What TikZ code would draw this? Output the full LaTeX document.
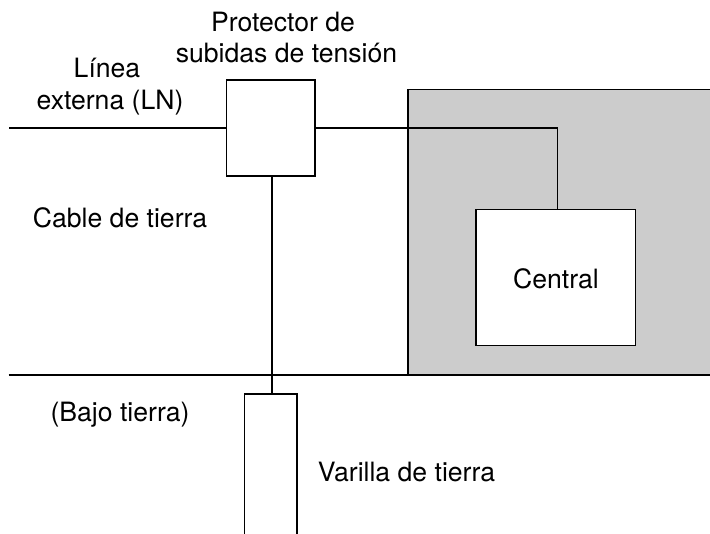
\documentclass[tikz,border=0pt]{standalone}
\usepackage{fontspec}
\setmainfont{TeX Gyre Heros}
\definecolor{roomgray}{HTML}{CCCCCC}
\tikzset{
  wire/.style={draw=black,line width=1.5pt},
  boxed/.style={draw=black,line width=1.5pt,fill=white,inner sep=0pt,outer sep=0pt,anchor=north west},
  lbl/.style={font=\fontsize{26.6}{31}\selectfont,inner sep=0pt,text=black,anchor=base}
}
\begin{document}
\begin{tikzpicture}[x=1pt,y=-1pt,line cap=butt]
\useasboundingbox (0,0) rectangle (710,534);
\fill[white] (0,0) rectangle (710,534);
\node[draw=black,line width=1.5pt,fill=roomgray,inner sep=0pt,outer sep=0pt,anchor=north west,minimum width=304pt,minimum height=285.5pt] (room) at (408,89.7) {};
\coordinate (lnstart) at (9,127.8);
\coordinate (gl) at (8.5,375);
\coordinate (gr) at (710,375);
\node[boxed,minimum width=88.5pt,minimum height=96pt] (prot) at (226.3,80) {};
\node[boxed,minimum width=159.4pt,minimum height=136pt] (central) at (476,209.7) {};
\coordinate (rodbl) at (244.5,534);
\coordinate (rodbr) at (297,534);
\coordinate (rodtl) at (244.5,394);
\coordinate (rodtr) at (297,394);
\coordinate (turn) at (557.7,127.8);
\coordinate (rodtop) at (272,394);
\draw[wire] (lnstart) -- (prot.west |- lnstart);
\draw[wire,line join=miter] (prot.east |- turn) -- (turn) -- (turn |- central.north);
\draw[wire] (gl) -- (gr);
\draw[wire,line join=miter] (rodbl) -- (rodtl) -- (rodtr) -- (rodbr);
\draw[wire] (rodtop) -- (rodtop |- prot.south);
\node[lbl] (t1a) at (283,32) {Protector de};
\node[lbl] (t1b) at (286.5,63) {subidas de tensión};
\node[lbl] (t2a) at (107,78) {Línea};
\node[lbl] (t2b) at (110,110) {externa (LN)};
\node[lbl] (t3) at (120,228) {Cable de tierra};
\node[lbl] (t4) at (556,289) {Central};
\node[lbl] (t5) at (120,422) {(Bajo tierra)};
\node[lbl] (t6) at (406.5,482) {Varilla de tierra};
\end{tikzpicture}
\end{document}
